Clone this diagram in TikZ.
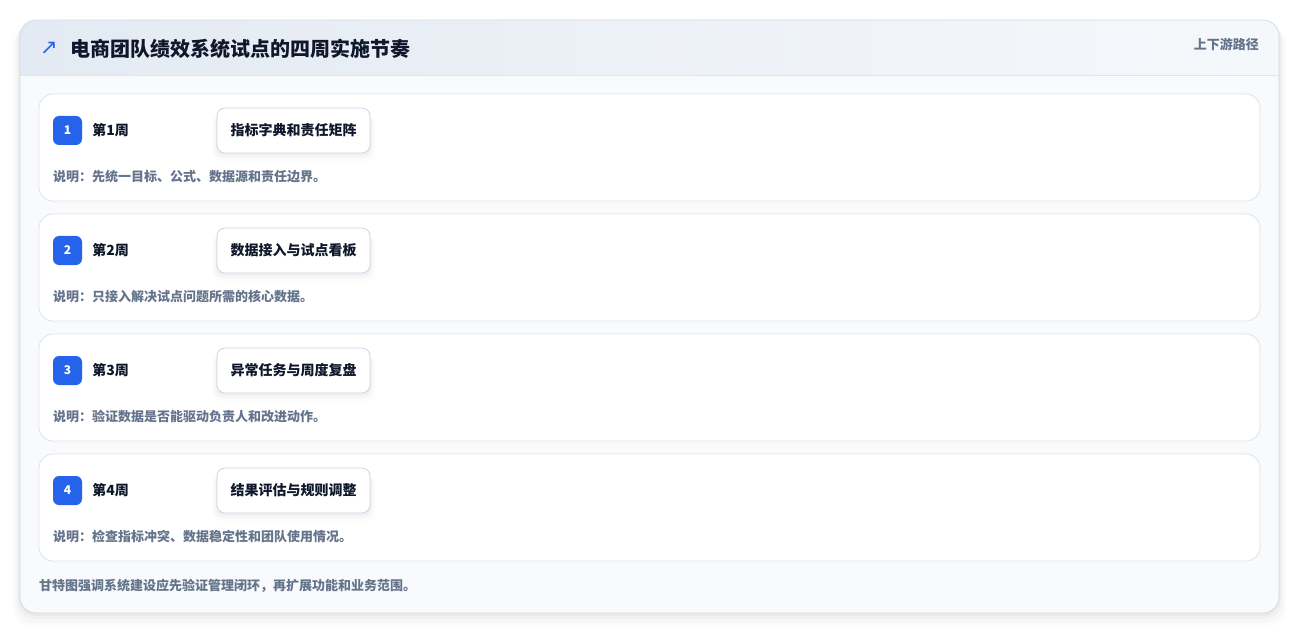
\documentclass[tikz,border=0pt]{standalone}
\usepackage{fontspec}
\setmainfont{Noto Sans CJK SC}
\newfontfamily\symfont{DejaVu Sans}
\usetikzlibrary{positioning}

\definecolor{cardline}{HTML}{D3DCE8}
\definecolor{rowline}{HTML}{DCE5F1}
\definecolor{taskline}{HTML}{C6D6EC}
\definecolor{badgeblue}{HTML}{2563EB}
\definecolor{inkdark}{HTML}{0F172A}
\definecolor{inkgray}{HTML}{64748B}
\definecolor{headleft}{HTML}{E4EAF3}
\definecolor{headright}{HTML}{F5F8FB}
\definecolor{bodybg}{HTML}{F8FAFC}

\tikzset{
  rowcard/.style={draw=rowline, fill=white, rounded corners=14pt, line width=0.8pt},
  badge/.style={fill=badgeblue, rounded corners=6pt, minimum width=29pt, minimum height=29pt,
    inner sep=0pt, text=white, font=\bfseries\fontsize{12}{12}\selectfont},
  weeklabel/.style={anchor=west, inner sep=0pt, text=inkdark, font=\bfseries\fontsize{14}{14}\selectfont},
  taskbox/.style={draw=taskline, fill=white, rounded corners=8pt, line width=0.8pt,
    minimum width=153pt, minimum height=45pt, inner sep=0pt, text=inkdark,
    font=\bfseries\fontsize{14}{14}\selectfont},
  notetext/.style={anchor=west, inner sep=0pt, text=inkgray, font=\bfseries\fontsize{13}{13}\selectfont}
}

\begin{document}
\begin{tikzpicture}[x=1pt, y=-1pt]
\useasboundingbox (0,0) rectangle (1300,636);

% 外框阴影
\foreach \s/\o in {14/0.012,10/0.018,6/0.025,3/0.03} {
  \fill[black, opacity=\o, rounded corners=18pt] (20-\s/2,20+\s/2) rectangle (1279+\s/2,613+\s);
}

% 外框
\begin{scope}
  \clip[rounded corners=16pt] (20,20) rectangle (1279,613);
  \fill[bodybg] (20,20) rectangle (1279,613);
  \shade[left color=headleft, right color=headright] (20,20) rectangle (1279,75);
  \draw[rowline, line width=0.8pt] (20,75) -- (1279,75);
\end{scope}
\draw[cardline, line width=0.8pt, rounded corners=16pt] (20,20) rectangle (1279,613);

% 标题
\node[anchor=west, inner sep=0pt, text=badgeblue, font=\symfont\fontsize{21}{21}\selectfont] (icon) at (40,48) {↗};
\node[anchor=west, inner sep=0pt, text=inkdark, font=\bfseries\fontsize{20}{20}\selectfont] (title) at (70,49) {电商团队绩效系统试点的四周实施节奏};
\node[anchor=east, inner sep=0pt, text=inkgray, font=\bfseries\fontsize{13}{13}\selectfont] (route) at (1259,44) {上下游路径};

% 四周
\foreach \n/\task/\note in {
  1/指标字典和责任矩阵/说明：先统一目标、公式、数据源和责任边界。,
  2/数据接入与试点看板/说明：只接入解决试点问题所需的核心数据。,
  3/异常任务与周度复盘/说明：验证数据是否能驱动负责人和改进动作。,
  4/结果评估与规则调整/说明：检查指标冲突、数据稳定性和团队使用情况。} {
  \pgfmathsetmacro{\top}{94+(\n-1)*120}
  \draw[rowcard] (39,\top) rectangle (1260,\top+107);
  \node[badge] (badge\n) at (67.5,\top+36.5) {\n};
  \node[weeklabel, right=10pt of badge\n] (week\n) {第\n 周};
  \foreach \g/\o in {5/0.012,3/0.018,1.5/0.025} {
    \fill[black, opacity=\o, rounded corners=10pt] (217-\g,\top+16+\g) rectangle (370+\g,\top+60+\g*1.5);
  }
  \node[taskbox] (task\n) at (293.5,\top+36.5) {\task};
  \node[notetext] (note\n) at (53,\top+83) {\note};
}

% 脚注
\node[anchor=west, inner sep=0pt, text=inkgray, font=\bfseries\fontsize{13}{13}\selectfont] (foot) at (39,586) {甘特图强调系统建设应先验证管理闭环，再扩展功能和业务范围。};

\end{tikzpicture}
\end{document}
